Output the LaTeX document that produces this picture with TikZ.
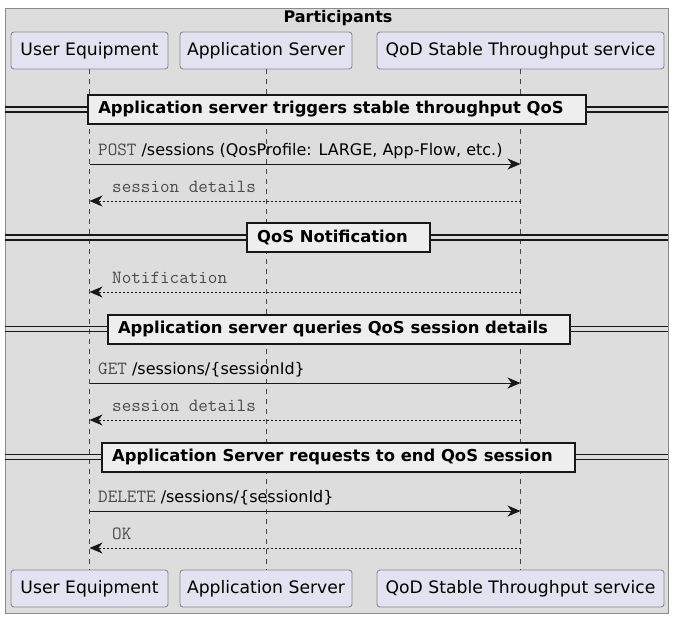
\documentclass[tikz,border=0pt]{standalone}
\usepackage{fontspec}
\setmainfont{DejaVu Sans}
\newcommand\monof{\ttfamily\fontsize{18.6}{21}\selectfont}
\usetikzlibrary{arrows.meta}
\definecolor{framefill}{HTML}{DDDDDD}
\definecolor{frameline}{HTML}{8A8A8A}
\definecolor{partfill}{HTML}{E2E2F0}
\definecolor{partline}{HTML}{8A8A8A}
\definecolor{divfill}{HTML}{EEEEEE}
\definecolor{ink}{HTML}{181818}
\definecolor{monogrey}{HTML}{4A4A4A}
\tikzset{
  part/.style={draw=partline, fill=partfill, rounded corners=3pt, line width=0.9pt,
    minimum height=37pt, inner sep=0pt, font=\fontsize{17.2}{20}\selectfont},
  lifeline/.style={draw=ink!80, line width=0.7pt, dash pattern=on 5pt off 5pt},
  divbox/.style={draw=ink, fill=divfill, line width=2pt, minimum height=29pt,
    inner xsep=10pt, font=\bfseries\fontsize{16.4}{19}\selectfont},
  divline/.style={draw=ink, line width=1.2pt},
  callarrow/.style={draw=ink, line width=1pt, -{Stealth[length=13pt,width=11pt,inset=4pt]}},
  retarrow/.style={draw=ink, line width=1pt, dash pattern=on 2pt off 2pt, -{Stealth[length=13pt,width=11pt,inset=4pt]}},
  msglabel/.style={anchor=base west, inner sep=0pt, font=\fontsize{16}{19}\selectfont},
  mono/.style={text=monogrey, font=\monof}
}
\begin{document}
\begin{tikzpicture}[x=1pt,y=-1pt]
\useasboundingbox (0,0) rectangle (676,619);
% frame
\draw[fill=framefill, draw=frameline, line width=0.9pt] (5,8) rectangle (668,613);
\node[font=\bfseries\fontsize{16}{19}\selectfont, inner sep=0pt] (title) at (338,18) {Participants};
% participants
\node[part, minimum width=157pt] (ue) at (89.5,50.5) {User Equipment};
\node[part, minimum width=172pt] (as) at (266,50.5) {Application Server};
\node[part, minimum width=287pt] (qod) at (520.5,50.5) {QoD Stable Throughput service};
\node[part, minimum width=157pt] (ueb) at (89.5,588.5) {User Equipment};
\node[part, minimum width=172pt] (asb) at (266,588.5) {Application Server};
\node[part, minimum width=287pt] (qodb) at (520.5,588.5) {QoD Stable Throughput service};
% lifelines
\draw[lifeline] (ue.south) -- (ueb.north);
\draw[lifeline] (as.south) -- (asb.north);
\draw[lifeline] (qod.south) -- (qodb.north);
% dividers
\foreach \x/\y/\nm/\txt in {337/109.5/d1/Application server triggers stable throughput QoS,
                          338.5/237.5/d2/QoS Notification,
                          339/329/d3/Application server queries QoS session details,
                          338.5/457/d4/Application Server requests to end QoS session}{
  \draw[divline] (5,\y-2.5) -- (668,\y-2.5);
  \draw[divline] (5,\y+2.5) -- (668,\y+2.5);
  \node[divbox] (\nm) at (\x,\y) {\txt\hspace*{12pt}};
}
% message coordinates
\foreach \nm/\y in {a/164, b/201, c/292, d/383, e/420, f/511, g/548}{
  \coordinate (ue\nm) at (ue.south |- 0,\y);
  \coordinate (qod\nm) at (qod.south |- 0,\y);
}
% messages
\draw[callarrow] (uea) -- (qoda);
\node[msglabel] (l1) at (98,155) {{\color{monogrey}\monof POST} /sessions (QosProfile: LARGE, App-Flow, etc.)};
\draw[retarrow] (qodb) -- (ueb);
\node[msglabel, mono] (l2) at (112,192) {session details};
\draw[retarrow] (qodc) -- (uec);
\node[msglabel, mono] (l3) at (112,283) {Notification};
\draw[callarrow] (ued) -- (qodd);
\node[msglabel] (l4) at (98,374) {{\color{monogrey}\monof GET} /sessions/\{sessionId\}};
\draw[retarrow] (qode) -- (uee);
\node[msglabel, mono] (l5) at (112,411) {session details};
\draw[callarrow] (uef) -- (qodf);
\node[msglabel] (l6) at (98,502) {{\color{monogrey}\monof DELETE} /sessions/\{sessionId\}};
\draw[retarrow] (qodg) -- (ueg);
\node[msglabel, mono] (l7) at (112,539) {OK};
\end{tikzpicture}
\end{document}
